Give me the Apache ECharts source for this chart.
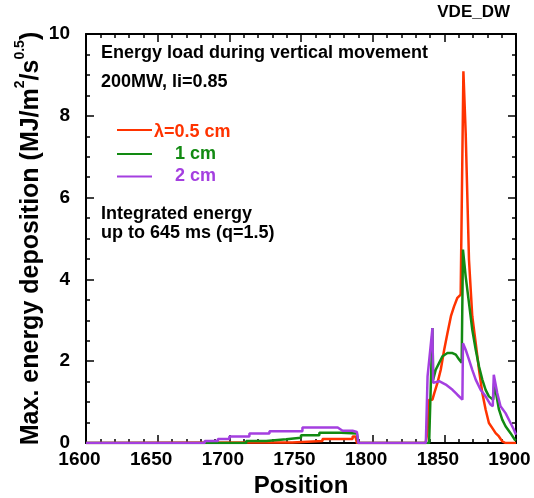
<!DOCTYPE html>
<html><head><meta charset="utf-8">
<script src="https://cdn.jsdelivr.net/npm/echarts@6/dist/echarts.min.js"></script>
<style>html,body{margin:0;padding:0;background:#fff}#c{width:534px;height:498px}</style>
</head><body><div id="c"></div><script>
// ---- data ----
const seriesNames = ['λ=0.5 cm', '1 cm', '2 cm'];
const xTickLabels = ['1600','1650','1700','1750','1800','1850','1900'];
const yTickLabels = ['0','2','4','6','8','10'];

const redX = [1600,1712,1744,1744,1765,1765,1786,1786,1788,1789,1837,1838.3,1839.4,1841.7,1843,1845.2,1847.5,1849.9,1852.2,1854.6,1856.8,1859.1,1861.4,1862.6,1863.3,1864.2,1864.9,1867.2,1868.4,1869.5,1871.9,1874.2,1876.5,1878.8,1881.1,1883.4,1885.8,1888.1,1890.4,1892.7,1900];
const redY = [0,0.01,0.01,0.05,0.05,0.1,0.1,0.16,0.16,0,0,0.3,1.06,1.06,1.22,1.47,1.79,2.28,2.69,3.10,3.34,3.55,3.63,3.67,9.09,9.09,7.58,4.48,3.75,3.10,2.44,1.79,1.22,0.82,0.49,0.37,0.24,0.16,0.04,0,0];

const greenX = [1600,1711.8,1711.8,1725.7,1725.7,1739.7,1739.7,1750,1750,1762.8,1762.8,1778,1778,1789,1790,1839.4,1840.6,1841.7,1842.2,1844,1846.4,1848.7,1852.2,1855.7,1858,1860.3,1862.1,1863,1863.7,1864.9,1867.2,1869.5,1871.9,1874.2,1876.5,1878.8,1881.1,1884.1,1884.8,1888.1,1890.4,1892.7,1896.2,1899.2,1900];
const greenY = [0,0,0.05,0.05,0.09,0.09,0.13,0.13,0.19,0.19,0.25,0.25,0.23,0.23,0,0,1.47,2.81,1.55,1.79,1.96,2.12,2.2,2.2,2.16,2.04,1.96,4.73,4.73,4.07,3.42,2.77,2.28,1.87,1.55,1.30,1.14,1.06,1.47,0.82,0.57,0.41,0.24,0.08,0.06];

const purpleX = [1600,1682.8,1682.8,1692,1692,1700,1700,1714,1714,1728,1728,1751,1751,1775.6,1779,1786,1789,1790,1837.1,1838.3,1841.7,1842.2,1846.4,1851,1855.7,1859.1,1862.6,1863,1864.9,1867.2,1869.5,1871.9,1875.3,1878.8,1882.2,1883.8,1884.5,1886.9,1889.2,1892.7,1896.2,1898.5,1900];
const purpleY = [0,0,0.05,0.05,0.1,0.1,0.16,0.16,0.23,0.23,0.29,0.29,0.38,0.38,0.3,0.3,0.27,0,0,1.63,2.81,1.47,1.51,1.43,1.30,1.18,1.06,2.44,2.28,2.04,1.79,1.55,1.30,1.14,0.94,0.90,1.67,1.22,0.90,0.73,0.49,0.33,0.2];

const colors = ['#ff3300', '#128a12', '#a43fe0'];
const FONT = '"Liberation Sans", Arial, Helvetica, sans-serif';

function zip(xs, ys) { return xs.map((x, i) => [x, ys[i]]); }

const chart = echarts.init(document.getElementById('c'), null, {renderer: 'canvas'});

const axisCommon = {
  axisLine: {show: true, onZero: false, lineStyle: {color: '#000', width: 2}},
  axisTick: {show: true, inside: true, length: 8, lineStyle: {color: '#000', width: 1.5}},
  minorTick: {show: true, length: 4, lineStyle: {color: '#000', width: 1.5}},
  splitLine: {show: false},
  minorSplitLine: {show: false}
};

const labelStyle = {fontFamily: FONT, fontWeight: 'bold', fontSize: 19, color: '#000'};

chart.setOption({
  animation: false,
  backgroundColor: '#fff',
  grid: {left: 86, right: 18, top: 34, bottom: 55, containLabel: false, outerBoundsMode: 'none'},
  xAxis: [
    Object.assign({}, axisCommon, {
      type: 'value', min: 1600, max: 1900, interval: 50, position: 'bottom',
      minorTick: Object.assign({}, axisCommon.minorTick, {splitNumber: 5}),
      axisLabel: Object.assign({}, labelStyle, {margin: 7, padding: [0, 13, 0, 0],
        formatter: v => xTickLabels[Math.round((v - 1600) / 50)] || ''}),
      name: 'Position', nameLocation: 'middle', nameGap: 31,
      nameTextStyle: {fontFamily: FONT, fontWeight: 'bold', fontSize: 24, color: '#000'}
    }),
    Object.assign({}, axisCommon, {
      type: 'value', min: 1600, max: 1900, interval: 50, position: 'top',
      minorTick: Object.assign({}, axisCommon.minorTick, {splitNumber: 5}),
      axisLabel: {show: false}
    })
  ],
  yAxis: [
    Object.assign({}, axisCommon, {
      type: 'value', min: 0, max: 10, interval: 2, position: 'left',
      minorTick: Object.assign({}, axisCommon.minorTick, {splitNumber: 4}),
      axisLabel: Object.assign({}, labelStyle, {margin: 16, padding: [0, 0, 6, 0],
        formatter: v => yTickLabels[Math.round(v / 2)] || ''}),
      name: '{a|Max. energy deposition (MJ/m}{s|2}{a|/s}{s|0.5}{a|)}',
      nameLocation: 'middle', nameRotate: 90, nameGap: 42, nameMoveOverlap: false,
      nameTextStyle: {
        fontFamily: FONT, fontWeight: 'bold', fontSize: 25, color: '#000',
        rich: {
          a: {fontFamily: FONT, fontWeight: 'bold', fontSize: 25, color: '#000', lineHeight: 31, verticalAlign: 'bottom'},
          s: {fontFamily: FONT, fontWeight: 'bold', fontSize: 14, color: '#000', lineHeight: 31, verticalAlign: 'top'}
        }
      }
    }),
    Object.assign({}, axisCommon, {
      type: 'value', min: 0, max: 10, interval: 2, position: 'right',
      minorTick: Object.assign({}, axisCommon.minorTick, {splitNumber: 4}),
      axisLabel: {show: false}
    })
  ],
  series: [
    {name: seriesNames[0], type: 'line', data: zip(redX, redY), showSymbol: false, symbol: 'none',
     lineStyle: {color: colors[0], width: 2.5}, itemStyle: {color: colors[0]}, z: 3},
    {name: seriesNames[1], type: 'line', data: zip(greenX, greenY), showSymbol: false, symbol: 'none',
     lineStyle: {color: colors[1], width: 2.5}, itemStyle: {color: colors[1]}, z: 4},
    {name: seriesNames[2], type: 'line', data: zip(purpleX, purpleY), showSymbol: false, symbol: 'none',
     lineStyle: {color: colors[2], width: 2.5}, itemStyle: {color: colors[2]}, z: 5}
  ],
  graphic: [
    {type: 'text', x: 510, y: 12.5, style: {text: 'VDE_DW', font: 'bold 17px ' + FONT, fill: '#000', align: 'right', verticalAlign: 'middle'}},
    {type: 'text', x: 101, y: 53, style: {text: 'Energy load during vertical movement', font: 'bold 18px ' + FONT, fill: '#000', align: 'left', verticalAlign: 'middle'}},
    {type: 'text', x: 101, y: 82, style: {text: '200MW, li=0.85', font: 'bold 18px ' + FONT, fill: '#000', align: 'left', verticalAlign: 'middle'}},
    {type: 'line', shape: {x1: 117, y1: 130, x2: 152, y2: 130}, style: {stroke: colors[0], lineWidth: 2}},
    {type: 'text', x: 154, y: 132.5, style: {text: seriesNames[0], font: 'bold 18px ' + FONT, fill: colors[0], align: 'left', verticalAlign: 'middle'}},
    {type: 'line', shape: {x1: 117, y1: 154, x2: 152, y2: 154}, style: {stroke: colors[1], lineWidth: 2}},
    {type: 'text', x: 175, y: 154, style: {text: seriesNames[1], font: 'bold 18px ' + FONT, fill: colors[1], align: 'left', verticalAlign: 'middle'}},
    {type: 'line', shape: {x1: 117, y1: 176.5, x2: 152, y2: 176.5}, style: {stroke: colors[2], lineWidth: 2}},
    {type: 'text', x: 175, y: 176, style: {text: seriesNames[2], font: 'bold 18px ' + FONT, fill: colors[2], align: 'left', verticalAlign: 'middle'}},
    {type: 'text', x: 101, y: 214.5, style: {text: 'Integrated energy', font: 'bold 18px ' + FONT, fill: '#000', align: 'left', verticalAlign: 'middle'}},
    {type: 'text', x: 101, y: 233.5, style: {text: 'up to 645 ms (q=1.5)', font: 'bold 18px ' + FONT, fill: '#000', align: 'left', verticalAlign: 'middle'}}
  ]
});
</script></body></html>
